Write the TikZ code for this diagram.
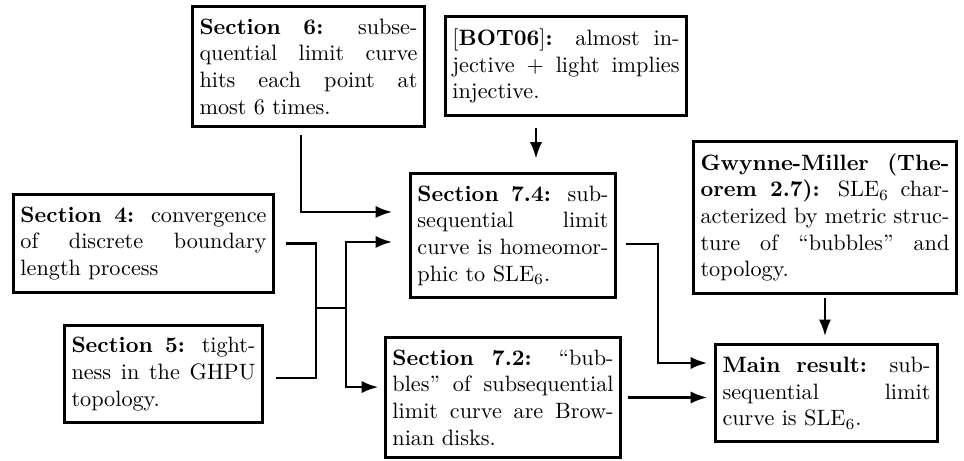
\documentclass[tikz,border=0pt]{standalone}
\usepackage{amsmath}
\usepackage{amssymb}
\usetikzlibrary{calc,positioning,arrows.meta}

\begin{document}
\begin{tikzpicture}[x=0.45pt,y=-0.45pt,
  box/.style={draw,line width=1.3pt,inner xsep=3pt,inner ysep=5.5pt,align=justify},
  wire/.style={line width=1.1pt},
  link/.style={wire,-{Latex[length=7.5pt,width=5.5pt]}}]
  \useasboundingbox (0,0) rectangle (964,460);

  \node[box,text width=98.1pt] (s6) at (308.5,66.5) {\textbf{Section 6:} subse-\linebreak quential limit curve\linebreak hits each point at\linebreak most 6 times.};
  \node[box,text width=102.2pt] (bot) at (566,66) {[\textbf{BOT06}]\textbf{:} almost in-\linebreak jective + light implies\linebreak injective.};
  \node[box,text width=86pt] (s74) at (513,235.5) {\textbf{Section 7.4:} sub-\linebreak sequential limit\linebreak curve is homeomor-\linebreak phic to SLE$_6$.};
  \node[box,text width=110.7pt] (s4) at (143.5,243.5) {\textbf{Section 4:} convergence\linebreak of discrete boundary\linebreak length process};
  \node[box,text width=82.8pt] (s5) at (163.5,374) {\textbf{Section 5:} tight-\linebreak ness in the GHPU\linebreak topology.};
  \node[box,text width=99.5pt] (s72) at (503,397.5) {\textbf{Section 7.2:} ``bub-\linebreak bles'' of subsequential\linebreak limit curve are Brow-\linebreak nian disks.};
  \node[box,text width=112pt] (gm) at (825,217.5) {\textbf{Gwynne-Miller (The-\linebreak orem 2.7):} SLE$_6$ char-\linebreak acterized by metric struc-\linebreak ture of ``bubbles'' and\linebreak topology.};
  \node[box,text width=93.6pt] (main) at (826.5,393) {\textbf{Main result:} sub-\linebreak sequential limit\linebreak curve is SLE$_6$.};

  % sections 4 and 5 join, then split
  \coordinate (split) at (316,308);
  \coordinate (fork) at (346,308);
  \draw[wire,shorten <=5pt] (s4.east) -| (split);
  \draw[wire,shorten <=5.4pt] ([yshift=-1.8pt]s5.east) -| (split);
  \draw[wire] (split) -- (fork);
  \draw[link,shorten >=7.7pt] (fork) |- ([yshift=-2.9pt]s74.west);
  \draw[link,shorten >=2.7pt] (fork) |- ([yshift=4.7pt]s72.west);

  \draw[link,shorten <=3.2pt,shorten >=7.7pt] ([xshift=-3.4pt]s6.south) |- ([yshift=10.6pt]s74.west);
  \draw[link,shorten <=5pt,shorten >=5.9pt] ([xshift=-13.5pt]bot.south) -- ([xshift=-13.5pt]bot.south |- s74.north);
  \draw[link,shorten <=4pt,shorten >=3.2pt] ([yshift=-3.8pt]s74.east) -- ++(18.5pt,0) |- ([yshift=13.5pt]main.west);
  \draw[link,shorten <=2.7pt,shorten >=3.2pt] (s72.east) -- (s72.east -| main.west);
  \draw[link,shorten <=1.4pt,shorten >=3.2pt] (gm.south) -- (gm.south |- main.north);
\end{tikzpicture}
\end{document}
